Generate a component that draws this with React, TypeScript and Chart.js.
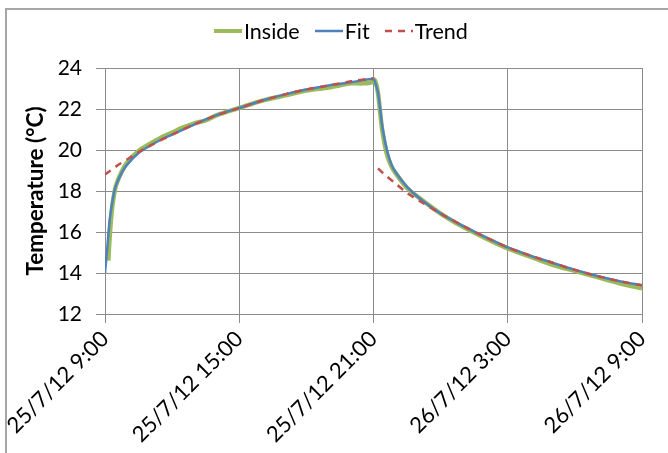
import React, { useEffect, useRef } from "react";
import { Chart, registerables } from "chart.js";

Chart.register(...registerables);

// Hours since 25/7/12 9:00
const tickLabels: Record<number, string> = {
  0: "25/7/12 9:00",
  6: "25/7/12 15:00",
  12: "25/7/12 21:00",
  18: "26/7/12 3:00",
  24: "26/7/12 9:00",
};

const insideHours = [0.15, 0.2, 0.3, 0.4, 0.5, 0.75, 1, 1.5, 2, 2.5, 3, 3.5, 4, 4.5, 5, 6, 7, 8, 9, 10, 11, 11.5, 11.9, 12, 12.1, 12.2, 12.3, 12.4, 12.6, 12.8, 13, 13.5, 14, 15, 16, 17, 18, 19, 20, 21, 22, 23, 24];
const insideValues = [14.6, 15.6, 17.0, 17.8, 18.3, 18.95, 19.4, 19.95, 20.3, 20.6, 20.85, 21.1, 21.3, 21.45, 21.7, 22.05, 22.4, 22.65, 22.9, 23.05, 23.25, 23.25, 23.3, 23.45, 23.3, 22.8, 21.8, 20.9, 19.8, 19.2, 18.85, 18.15, 17.7, 16.9, 16.25, 15.7, 15.2, 14.8, 14.4, 14.1, 13.8, 13.5, 13.25];

const fitHours = [0, 0.1, 0.2, 0.3, 0.4, 0.5, 0.75, 1, 1.5, 2, 2.5, 3, 4, 5, 6, 7, 8, 9, 10, 11, 11.5, 12, 12.1, 12.2, 12.3, 12.4, 12.6, 12.8, 13, 13.5, 14, 15, 16, 17, 18, 19, 20, 21, 22, 23, 24];
const fitValues = [14.0, 15.2, 16.5, 17.3, 17.9, 18.3, 18.9, 19.3, 19.85, 20.2, 20.5, 20.75, 21.25, 21.7, 22.05, 22.4, 22.7, 22.95, 23.15, 23.3, 23.4, 23.45, 23.2, 22.8, 22.0, 21.1, 20.0, 19.3, 18.9, 18.2, 17.7, 16.9, 16.3, 15.75, 15.25, 14.85, 14.5, 14.15, 13.85, 13.6, 13.4];

const trendHours = [0, 0.5, 1, 1.5, 2, 3, 4, 5, 6, 7, 8, 9, 10, 11, 12, 12.1, 12.2, 12.5, 13, 13.5, 14, 15, 16, 17, 18, 19, 20, 21, 22, 23, 24];
const trendValues: (number | null)[] = [18.8, 19.2, 19.55, 19.9, 20.2, 20.75, 21.25, 21.7, 22.05, 22.4, 22.7, 22.95, 23.15, 23.35, 23.5, null, 19.1, 18.8, 18.35, 17.9, 17.55, 16.9, 16.3, 15.75, 15.25, 14.85, 14.5, 14.15, 13.85, 13.6, 13.4];

const seriesNames = ["Inside", "Fit", "Trend"];
const seriesColors = ["#9BBB59", "#4F81BD", "#C0504D"];
const seriesWidths = [4.5, 2.5, 2.5];
const seriesDash: number[][] = [[], [], [7, 6]];

const FONT = "Lato";

export default function App() {
  const ref = useRef<HTMLCanvasElement>(null);
  useEffect(() => {
    document.body.style.margin = "0";
    const ctx = ref.current!;
    const sets = [
      insideHours.map((h, i) => ({ x: h, y: insideValues[i] })),
      fitHours.map((h, i) => ({ x: h, y: fitValues[i] })),
      trendHours.map((h, i) => ({ x: h, y: trendValues[i] as any })),
    ];
    const chart = new Chart(ctx, {
      type: "line",
      data: {
        datasets: sets.map((d, k) => ({
          label: seriesNames[k],
          data: d,
          borderColor: seriesColors[k],
          backgroundColor: seriesColors[k],
          borderWidth: seriesWidths[k],
          borderDash: seriesDash[k],
          pointRadius: 0,
          spanGaps: false,
          tension: 0.3,
          order: 2 - k,
        })),
      },
      options: {
        animation: false,
        responsive: false,
        maintainAspectRatio: false,
        layout: { padding: { left: 8, right: 26, top: 68, bottom: 0 } },
        plugins: {
          legend: { display: false },
          tooltip: { enabled: false },
        },
        scales: {
          x: {
            type: "linear",
            min: 0,
            max: 24,
            ticks: {
              stepSize: 6,
              autoSkip: false,
              minRotation: 45,
              maxRotation: 45,
              color: "#000",
              font: { family: FONT, size: 22 },
              callback: (v: any) => tickLabels[v as number] ?? "",
            },
            grid: { color: "#8c8c8c", lineWidth: 1, tickLength: 9 },
            border: { color: "#8c8c8c" },
            afterFit: (s: any) => { s.height = 139; },
          },
          y: {
            min: 12,
            max: 24,
            ticks: {
              stepSize: 2,
              color: "#000",
              font: { family: FONT, size: 21 },
              padding: 14,
            },
            title: {
              display: true,
              text: "Temperature (°C)",
              color: "#000",
              font: { family: FONT, size: 22.5, weight: "bold" },
              padding: { top: 14, bottom: 0 },
            },
            grid: { color: "#8c8c8c", lineWidth: 1, tickLength: 9 },
            border: { color: "#8c8c8c" },
            afterFit: (s: any) => { s.width = 97; },
          },
        },
      },
    });
    return () => chart.destroy();
  }, []);
  return (
    <div style={{ position: "fixed", left: 0, top: 0, width: 668, height: 453, background: "#fff" }}>
      <canvas ref={ref} width={668} height={453} style={{ width: 668, height: 453, display: "block" }} />
      <div
        style={{
          position: "absolute",
          left: 214,
          top: 18,
          height: 26,
          display: "flex",
          alignItems: "center",
          fontFamily: FONT,
          fontSize: 21.5,
          color: "#000",
          whiteSpace: "nowrap",
        }}
      >
        {seriesNames.map((n, k) => (
          <span key={n} style={{ display: "flex", alignItems: "center", marginRight: 15 }}>
            <svg width={28} height={8} style={{ marginRight: 2 }}>
              <line
                x1={0}
                y1={4}
                x2={28}
                y2={4}
                stroke={seriesColors[k]}
                strokeWidth={k === 0 ? 4 : 2.5}
                strokeDasharray={k === 2 ? "7 6" : undefined}
              />
            </svg>
            <span>{n}</span>
          </span>
        ))}
      </div>
      <div style={{ position: "absolute", left: 5, top: 8, right: 0, bottom: 0, borderTop: "2px solid #a6a6a6", borderLeft: "2px solid #a6a6a6", pointerEvents: "none" }} />
    </div>
  );
}
